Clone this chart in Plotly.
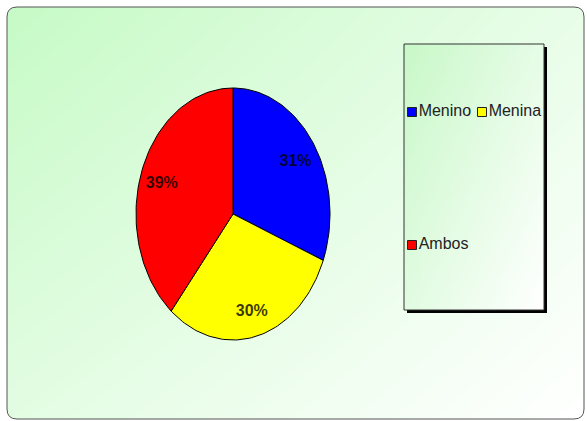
import numpy as np
import plotly.graph_objects as go

# ---- data ----
categories = ["Menino", "Menina", "Ambos"]
values = [31, 30, 39]
colors = ["#0000ff", "#ffff00", "#ff0000"]

# ---- layout constants (pixel-based axes) ----
W, H = 587, 421
cx, cy, rx, ry = 233, 214, 97, 126
legend_pos = [(412, 112), (482, 112), (412, 245)]   # legend item anchor positions

fig = go.Figure()

# background gradient (rounded panel)
fig.add_trace(go.Heatmap(
    z=[[0, 0.6], [0.5, 1]], x=[7, 584], y=[7, 419], zsmooth="best",
    colorscale=[[0, "#c6fac6"], [1, "#ffffff"]], showscale=False,
    hoverinfo="skip", zmin=0, zmax=1))
# legend shadow
fig.add_trace(go.Heatmap(
    z=[[1]], x=[407, 547], y=[47, 313],
    colorscale=[[0, "#000000"], [1, "#000000"]], showscale=False,
    hoverinfo="skip"))
# legend box gradient (fine grid of cells)
n = 40
gx = np.linspace(404, 544, n + 1)
gy = np.linspace(44, 310, n + 1)
u = (np.arange(n) + 0.5) / n
gz = 0.55 * u[None, :] + 0.45 * u[:, None]
fig.add_trace(go.Heatmap(
    z=gz, x=gx, y=gy, colorscale=[[0, "#c8f8c8"], [1, "#ffffff"]],
    showscale=False, hoverinfo="skip", zmin=0, zmax=1))

total = sum(values)
start = 0.0
for name, v, c in zip(categories, values, colors):
    frac = v / total
    t = np.linspace(start, start + frac, 80) * 2 * np.pi
    xs = np.concatenate([[cx], cx + rx * np.sin(t), [cx]])
    ys = np.concatenate([[cy], cy - ry * np.cos(t), [cy]])
    fig.add_trace(go.Scatter(
        x=xs, y=ys, mode="lines", fill="toself", fillcolor=c, name=name,
        line=dict(color="#000000", width=1), showlegend=False,
        hoverinfo="skip"))
    mid = (start + frac / 2) * 2 * np.pi
    fig.add_trace(go.Scatter(
        x=[cx + 0.78 * rx * np.sin(mid)], y=[cy + 3 - 0.78 * ry * np.cos(mid)],
        mode="text", text=[f"{v}%"],
        textfont=dict(family="Liberation Sans Narrow, Arial Narrow, Liberation Sans",
                      size=16, color="rgba(0,0,0,0.78)", weight="bold"),
        showlegend=False, hoverinfo="skip"))
    start += frac

# legend entries (drawn inside the legend box)
for name, c, (lx, ly) in zip(categories, colors, legend_pos):
    fig.add_trace(go.Scatter(
        x=[lx], y=[ly], mode="markers+text", text=[name],
        textposition="middle right",
        textfont=dict(family="Liberation Sans, Arial", size=16, color="#222222"),
        marker=dict(symbol="square", size=9, color=c,
                    line=dict(color="#222222", width=1)),
        showlegend=False, hoverinfo="skip"))

fig.update_layout(
    width=W, height=H, margin=dict(l=0, r=0, t=0, b=0),
    paper_bgcolor="white", plot_bgcolor="white",
    xaxis=dict(range=[0, W], visible=False, fixedrange=True),
    yaxis=dict(range=[H, 0], visible=False, fixedrange=True),
    showlegend=False,
    shapes=[
        # white outside the rounded panel
        dict(type="path", xref="x", yref="y", layer="above",
             path="M0,0 H587 V421 H0 Z M17,7 H574 Q584,7 584,17 V409 Q584,419 574,419 "
                  "H17 Q7,419 7,409 V17 Q7,7 17,7 Z",
             fillcolor="white", fillrule="evenodd", line=dict(width=0)),
        # panel border
        dict(type="path", xref="x", yref="y", layer="above",
             path="M17,7 H574 Q584,7 584,17 V409 Q584,419 574,419 "
                  "H17 Q7,419 7,409 V17 Q7,7 17,7 Z",
             line=dict(color="#555555", width=1)),
        # legend border
        dict(type="rect", xref="x", yref="y", layer="above",
             x0=404, x1=544, y0=44, y1=310,
             line=dict(color="#333333", width=1)),
    ],
)

fig.write_html("out.html", config={"displayModeBar": False},
               post_script="document.body.style.margin='0';")
